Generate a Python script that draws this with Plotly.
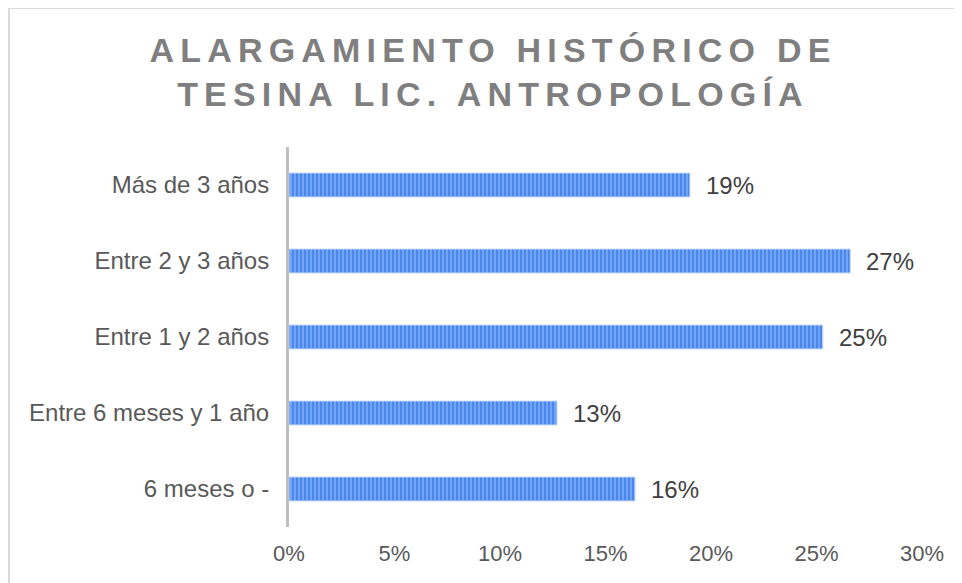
import plotly.graph_objects as go

categories = ["6 meses o -", "Entre 6 meses y 1 año", "Entre 1 y 2 años",
              "Entre 2 y 3 años", "Más de 3 años"]
values = [0.164, 0.127, 0.253, 0.266, 0.19]
x_tick_vals = [0, 0.05, 0.10, 0.15, 0.20, 0.25, 0.30]
x_tick_text = ["0%", "5%", "10%", "15%", "20%", "25%", "30%"]
title_lines = ["ALARGAMIENTO HISTÓRICO DE", "TESINA LIC. ANTROPOLOGÍA"]

# page body adds an 8px offset; size the figure so it fills the window
OFF = 8
W, H = 962 - OFF, 583 - OFF
ML, MR, MT, MB = 289 - OFF, 40, 147 - OFF, 56
FONT = "Liberation Sans, Arial"

fig = go.Figure()
fig.add_trace(go.Bar(
    y=categories, x=values, orientation="h",
    marker=dict(
        color="#4a88f0",
        line=dict(color="#c9dcfb", width=1),
        pattern=dict(shape="|", fgcolor="#b0ccfa", size=4, solidity=0.4,
                     fillmode="overlay"),
    ),
    hoverinfo="skip",
))

for c, v in zip(categories, values):
    fig.add_annotation(x=v, y=c, xref="x", yref="y", text=f"{round(v*100)}%",
                       showarrow=False, xanchor="left", xshift=14,
                       font=dict(family=FONT, size=24, color="#404040"))

title_html = "<br>".join(title_lines)
fig.update_layout(
    width=W, height=H,
    margin=dict(l=ML, r=MR, t=MT, b=MB),
    paper_bgcolor="white", plot_bgcolor="white",
    showlegend=False,
    bargap=0.684,
    title=dict(
        text=f'<span style="letter-spacing:6.2px">{title_html}</span>',
        x=(493 - OFF) / W, xref="container", xanchor="center",
        y=1 - (62 - OFF) / H, yref="container", yanchor="top",
        font=dict(family=FONT, size=34, color="#7f7f7f", weight="bold"),
    ),
    xaxis=dict(range=[0, 0.30], tickvals=x_tick_vals, ticktext=x_tick_text,
               showgrid=False, zeroline=False, showline=False, ticks="",
               ticklabelstandoff=11,
               tickfont=dict(family=FONT, size=22, color="#595959")),
    yaxis=dict(categoryorder="array", categoryarray=categories,
               showgrid=False, zeroline=False, showline=True,
               linecolor="#bfbfbf", linewidth=3, ticks="",
               ticklabelstandoff=12,
               tickfont=dict(family=FONT, size=24, color="#595959")),
)

pw, ph = W - ML - MR, H - MT - MB
fig.add_shape(type="rect", xref="paper", yref="paper",
              x0=(1 - ML) / pw, x1=(W + 20 - ML) / pw,
              y0=-(MB + 20) / ph, y1=(H - MB) / ph,
              line=dict(color="#d9d9d9", width=2), fillcolor="rgba(0,0,0,0)", layer="below")

fig.write_html("out.html")
